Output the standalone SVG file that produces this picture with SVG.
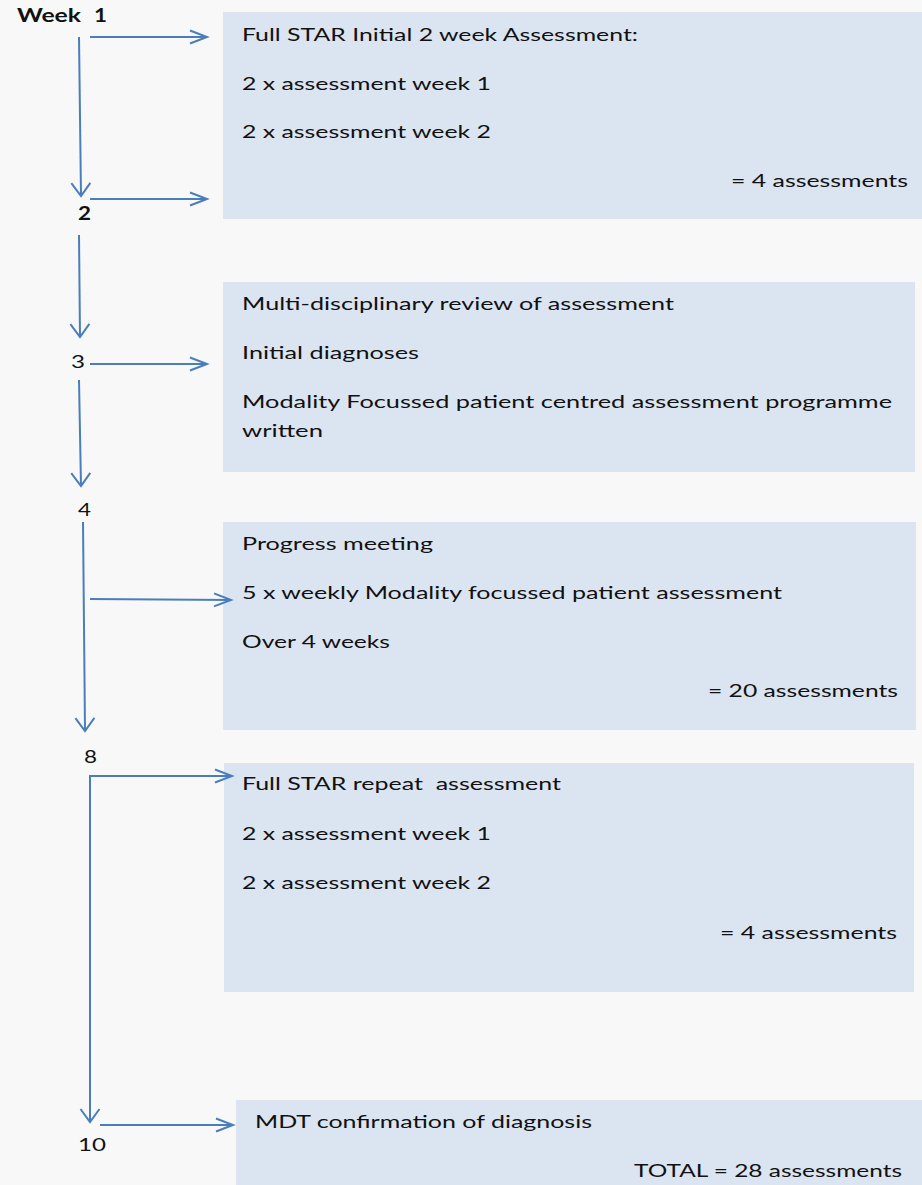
<svg xmlns="http://www.w3.org/2000/svg" width="922" height="1185" viewBox="0 0 922 1185">
  <defs>
    <style>
      .bg { fill: #f8f8f8; }
      .box { fill: #dbe5f1; }
      .t { font-family: Lato, "Open Sans", "Liberation Sans", sans-serif; font-size: 18px; fill: #111111; }
      .b { font-weight: 700; }
      .conn { fill: none; stroke: #4a7ebb; stroke-width: 2; }
      .h { marker-end: url(#ah); }
      .v { marker-end: url(#av); }
    </style>
    <pattern id="tex" width="8" height="8" patternUnits="userSpaceOnUse">
      <rect width="8" height="8" fill="#f9f9f9"/>
      <circle cx="2" cy="2" r="1.2" fill="#f1f1f1"/>
      <circle cx="6" cy="6" r="1.2" fill="#f3f3f3"/>
    </pattern>
    <marker id="ah" markerUnits="userSpaceOnUse" viewBox="0 0 17 14" markerWidth="17" markerHeight="14" refX="17" refY="7" orient="auto" overflow="visible">
      <path d="M0,0.5 L17,7 L0,13.5" fill="none" stroke="#4a7ebb" stroke-width="2"/>
    </marker>
    <marker id="av" markerUnits="userSpaceOnUse" viewBox="0 0 13 19" markerWidth="13" markerHeight="19" refX="13" refY="9.5" orient="auto-start-reverse" overflow="visible">
      <path d="M0,0 L13,9.5 L0,19" fill="none" stroke="#4a7ebb" stroke-width="2"/>
    </marker>
  </defs>

  <rect class="bg" x="0" y="0" width="922" height="1185" fill="url(#tex)"/>

  <g id="box-initial">
    <rect class="box" x="223" y="12" width="699" height="207"/>
    <text class="t" x="242" y="41" textLength="396" lengthAdjust="spacingAndGlyphs">Full STAR Initial 2 week Assessment:</text>
    <text class="t" x="242" y="90" textLength="249" lengthAdjust="spacingAndGlyphs">2 x assessment week 1</text>
    <text class="t" x="242" y="138" textLength="249" lengthAdjust="spacingAndGlyphs">2 x assessment week 2</text>
    <text class="t" x="731" y="187" textLength="177" lengthAdjust="spacingAndGlyphs">= 4 assessments</text>
  </g>

  <g id="box-review">
    <rect class="box" x="223" y="282" width="692" height="190"/>
    <text class="t" x="242" y="310" textLength="432" lengthAdjust="spacingAndGlyphs">Multi-disciplinary review of assessment</text>
    <text class="t" x="242" y="359" textLength="177" lengthAdjust="spacingAndGlyphs">Initial diagnoses</text>
    <text class="t" x="242" y="408" textLength="650" lengthAdjust="spacingAndGlyphs">Modality Focussed patient centred assessment programme</text>
    <text class="t" x="242" y="437" textLength="81" lengthAdjust="spacingAndGlyphs">written</text>
  </g>

  <g id="box-progress">
    <rect class="box" x="223" y="522" width="693" height="208"/>
    <text class="t" x="242" y="550" textLength="191" lengthAdjust="spacingAndGlyphs">Progress meeting</text>
    <text class="t" x="242" y="599" textLength="540" lengthAdjust="spacingAndGlyphs">5 x weekly Modality focussed patient assessment</text>
    <text class="t" x="242" y="648" textLength="148" lengthAdjust="spacingAndGlyphs">Over 4 weeks</text>
    <text class="t" x="708" y="697" textLength="190" lengthAdjust="spacingAndGlyphs">= 20 assessments</text>
  </g>

  <g id="box-repeat">
    <rect class="box" x="224" y="763" width="690" height="229"/>
    <text class="t" x="242" y="790" textLength="319" lengthAdjust="spacingAndGlyphs" xml:space="preserve">Full STAR repeat  assessment</text>
    <text class="t" x="242" y="840" textLength="249" lengthAdjust="spacingAndGlyphs">2 x assessment week 1</text>
    <text class="t" x="242" y="889" textLength="249" lengthAdjust="spacingAndGlyphs">2 x assessment week 2</text>
    <text class="t" x="720" y="939" textLength="177" lengthAdjust="spacingAndGlyphs">= 4 assessments</text>
  </g>

  <g id="box-mdt">
    <rect class="box" x="236" y="1100" width="686" height="85"/>
    <text class="t" x="255" y="1128" textLength="337" lengthAdjust="spacingAndGlyphs">MDT confirmation of diagnosis</text>
    <text class="t" x="634" y="1177" textLength="268" lengthAdjust="spacingAndGlyphs">TOTAL = 28 assessments</text>
  </g>

  <g id="label-week1">
    <text class="t b" y="22"><tspan x="17" textLength="64" lengthAdjust="spacingAndGlyphs">Week</tspan><tspan x="94" textLength="13" lengthAdjust="spacingAndGlyphs">1</tspan></text>
  </g>
  <g id="label-week2">
    <text class="t b" x="78" y="220" textLength="13" lengthAdjust="spacingAndGlyphs">2</text>
  </g>
  <g id="label-week3">
    <text class="t" x="71" y="368" textLength="14" lengthAdjust="spacingAndGlyphs">3</text>
  </g>
  <g id="label-week4">
    <text class="t" x="78" y="516" textLength="13" lengthAdjust="spacingAndGlyphs">4</text>
  </g>
  <g id="label-week8">
    <text class="t" x="84" y="763" textLength="13" lengthAdjust="spacingAndGlyphs">8</text>
  </g>
  <g id="label-week10">
    <text class="t" x="78" y="1151" textLength="28" lengthAdjust="spacingAndGlyphs">10</text>
  </g>

  <g id="connectors">
    <path class="conn h" d="M90,37 L207,37"/>
    <path class="conn v" d="M79,37 L81,196"/>
    <path class="conn h" d="M90,199 L207,199"/>
    <path class="conn v" d="M79,235 L80,337"/>
    <path class="conn h" d="M90,364 L207,364"/>
    <path class="conn v" d="M79,380 L81,486"/>
    <path class="conn v" d="M83,522 L85,731"/>
    <path class="conn h" d="M90,599 L231,600"/>
    <path class="conn" d="M90,1122 L90,776 L232,776" marker-start="url(#av)" marker-end="url(#ah)"/>
    <path class="conn h" d="M100,1125 L233,1125"/>
  </g>
</svg>
